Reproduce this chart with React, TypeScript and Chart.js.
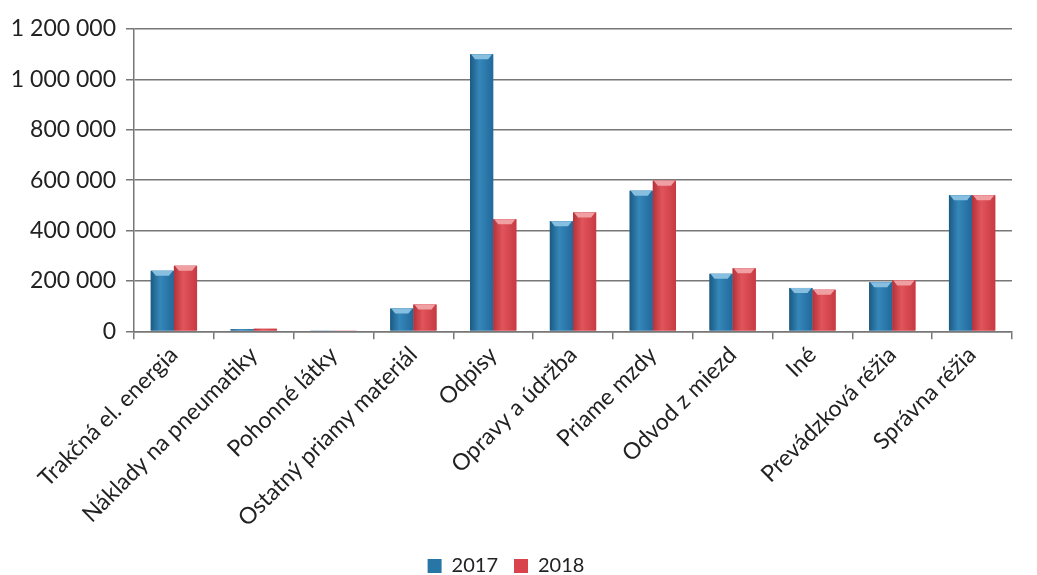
import React, { useEffect, useRef } from "react";
import { Chart, registerables } from "chart.js";

Chart.register(...registerables);

const categories = [
  "Trakčná el. energia",
  "Náklady na pneumatiky",
  "Pohonné látky",
  "Ostatný priamy materiál",
  "Odpisy",
  "Opravy a údržba",
  "Priame mzdy",
  "Odvod z miezd",
  "Iné",
  "Prevádzková réžia",
  "Správna réžia",
];

const values2017 = [240000, 8000, 2000, 90000, 1100000, 437000, 558000, 228000, 172000, 195000, 540000];
const values2018 = [260000, 10000, 2000, 106000, 445000, 472000, 598000, 250000, 165000, 202000, 540000];

const yTicks = [0, 200000, 400000, 600000, 800000, 1000000, 1200000];

const fmt = (v: number) => v.toLocaleString("en-US").replace(/,/g, " ");

const FONT = "Lato, 'Open Sans', sans-serif";

const shades = [
  { dark: "#1b5a82", mid: "#3587ba", edge: "#22699a", top: "#86bfe0" },
  { dark: "#b3323a", mid: "#e2545b", edge: "#c73a42", top: "#f0a0a3" },
];

const bevelPlugin = {
  id: "bevel",
  afterDatasetsDraw(chart: any) {
    const ctx = chart.ctx;
    chart.data.datasets.forEach((_: any, di: number) => {
      const meta = chart.getDatasetMeta(di);
      const s = shades[di % shades.length];
      meta.data.forEach((bar: any) => {
        const { x, y, base, width } = bar.getProps(["x", "y", "base", "width"], true);
        const l = x - width / 2;
        const r = x + width / 2;
        const h = base - y;
        if (h <= 0) return;
        const g = ctx.createLinearGradient(l, 0, r, 0);
        g.addColorStop(0, s.dark);
        g.addColorStop(0.4, s.mid);
        g.addColorStop(1, s.edge);
        ctx.save();
        ctx.fillStyle = g;
        ctx.fillRect(l, y, width, h);
        const bh = Math.min(5, h);
        if (h > 4) {
          ctx.fillStyle = s.top;
          ctx.beginPath();
          ctx.moveTo(l + 1, y);
          ctx.lineTo(r - 1, y);
          ctx.lineTo(r - 5, y + bh);
          ctx.lineTo(l + 5, y + bh);
          ctx.closePath();
          ctx.fill();
        }
        ctx.restore();
      });
    });
  },
};

export default function App() {
  const ref = useRef<HTMLCanvasElement | null>(null);

  useEffect(() => {
    if (!ref.current) return;
    const chart = new Chart(ref.current, {
      type: "bar",
      data: {
        labels: categories,
        datasets: [
          {
            label: "2017",
            data: values2017,
            backgroundColor: "#2876a6",
            borderWidth: 0,
            categoryPercentage: 0.58,
            barPercentage: 1,
          },
          {
            label: "2018",
            data: values2018,
            backgroundColor: "#d9434b",
            borderWidth: 0,
            categoryPercentage: 0.58,
            barPercentage: 1,
          },
        ],
      },
      plugins: [bevelPlugin],
      options: {
        animation: false,
        responsive: false,
        maintainAspectRatio: false,
        layout: { padding: { top: 29, right: 25, left: 0, bottom: 0 } },
        plugins: {
          tooltip: { enabled: false },
          legend: {
            position: "bottom",
            labels: {
              boxWidth: 14,
              boxHeight: 14,
              padding: 16,
              color: "#222",
              font: { family: FONT, size: 20 },
            },
          },
        },
        scales: {
          x: {
            offset: true,
            afterFit: (scale: any) => {
              scale.height += 6;
            },
            grid: {
              offset: true,
              drawOnChartArea: false,
              drawTicks: true,
              tickLength: 8,
              color: "#777",
              lineWidth: 1.5,
            },
            border: { color: "#777", width: 1.5 },
            ticks: {
              minRotation: 45,
              maxRotation: 45,
              color: "#222",
              padding: 2,
              font: { family: FONT, size: 23 },
              autoSkip: false,
            },
          },
          y: {
            min: 0,
            max: 1200000,
            afterFit: (scale: any) => {
              scale.width = 134;
            },
            afterBuildTicks: (scale: any) => {
              scale.ticks = yTicks.map((v) => ({ value: v }));
            },
            grid: {
              color: "#777",
              lineWidth: 1.5,
              tickLength: 8,
            },
            border: { color: "#777", width: 1.5 },
            ticks: {
              color: "#222",
              padding: 10,
              font: { family: FONT, size: 23 },
              callback: (v: any) => fmt(Number(v)),
            },
          },
        },
      },
    });
    return () => chart.destroy();
  }, []);

  return (
    <div style={{ position: "fixed", left: 0, top: 0, width: 1037, height: 575, overflow: "hidden", background: "#fff" }}>
      <canvas ref={ref} width={1037} height={586} style={{ width: 1037, height: 586, display: "block" }} />
    </div>
  );
}
